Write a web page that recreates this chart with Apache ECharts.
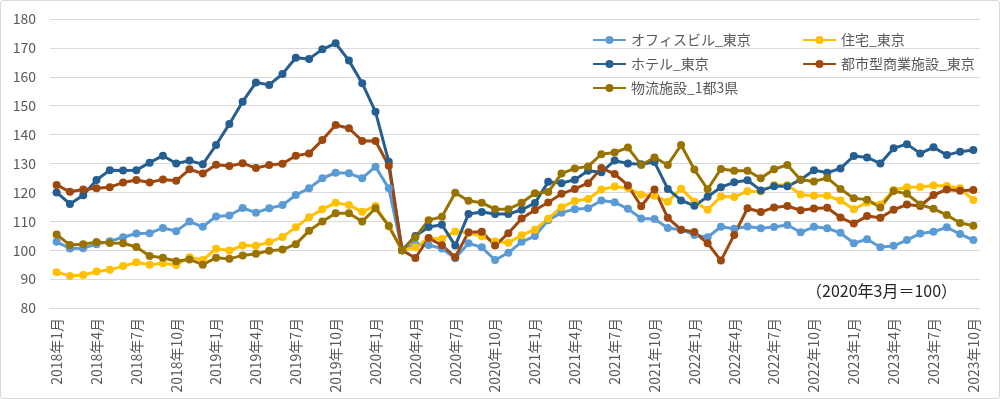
<!DOCTYPE html>
<html>
<head>
<meta charset="utf-8">
<script src="https://cdn.jsdelivr.net/npm/echarts@6/dist/echarts.min.js"></script>
<style>
  html, body { margin: 0; padding: 0; background: #fff; }
  #chart { width: 998px; height: 397px; border: 1px solid #d9d9d9; border-radius: 3px; }
</style>
</head>
<body>
<div id="chart"></div>
<script>
// months 2018/1 .. 2023/10
const years = [2018, 2019, 2020, 2021, 2022, 2023]
const months = []
years.forEach(y => {
  for (let m = 1; m <= 12; m++) {
    if (y === 2023 && m > 10) break
    months.push(y + '年' + m + '月')
  }
})

const seriesNames = ['オフィスビル_東京', '住宅_東京', 'ホテル_東京', '都市型商業施設_東京', '物流施設_1都3県']

const office = [102.9, 100.6, 100.7, 102.1, 103.1, 104.5, 105.8, 105.9, 107.7, 106.6, 109.9, 108.1,
  111.7, 112, 114.6, 113, 114.5, 115.6, 119.1, 121.4, 124.9, 126.8, 126.6, 124.9,
  128.9, 121.4, 100, 102, 101.8, 100.6, 97.2, 102.4, 101, 96.6, 99.1, 102.9,
  104.9, 110.4, 113, 114.2, 114.5, 117.2, 116.6, 114.3, 111, 110.8, 107.7, 107.1,
  105.3, 104.5, 108.1, 107.4, 108.2, 107.6, 108, 108.7, 106.2, 108.1, 107.6, 106,
  102.4, 103.8, 101, 101.5, 103.5, 105.8, 106.4, 107.9, 105.6, 103.5]

const housing = [92.4, 91.1, 91.4, 92.6, 93.2, 94.5, 95.8, 95, 95.5, 94.9, 97.6, 96.6,
  100.5, 99.9, 101.6, 101.5, 102.8, 104.6, 107.9, 111.4, 114.2, 116.4, 115.6, 113.3,
  115.3, 108.3, 100, 101, 104.1, 103.9, 106.5, 106, 104.8, 103, 102.6, 105.2,
  107.1, 110.9, 114.9, 117, 117.7, 121, 122, 121.5, 119.2, 118.8, 116.8, 121.3,
  116.8, 114, 118.6, 118.4, 120.4, 120.3, 122.6, 122.6, 119.3, 118.8, 118.8, 117.2,
  114.2, 116.5, 115.8, 120.8, 121.8, 121.9, 122.4, 122.2, 121.4, 117.4]

const hotel = [120, 116, 119, 124.3, 127.7, 127.6, 127.7, 130.3, 132.7, 130, 131, 129.7,
  136.4, 143.7, 151.4, 158, 157.2, 161, 166.6, 166.2, 169.5, 171.6, 165.6, 157.8,
  147.9, 130.6, 100, 104.9, 108, 108.8, 101.6, 112.5, 113.2, 112.5, 112.5, 114,
  116.3, 123.7, 123.2, 124.4, 127.5, 127, 131, 130, 129.7, 130.5, 121.2, 117.2,
  115.4, 118.5, 121.8, 123.5, 124.2, 120.7, 122.1, 122.1, 124.4, 127.7, 126.8, 128.3,
  132.6, 132.1, 130, 135.3, 136.7, 133.5, 135.6, 132.9, 134.1, 134.7]

const retail = [122.6, 120.2, 121, 121.4, 121.8, 123.4, 124.3, 123.4, 124.5, 124, 128, 126.5,
  129.6, 129.1, 130.1, 128.4, 129.5, 129.9, 132.7, 133.5, 138.1, 143.3, 142.2, 137.8,
  137.8, 129.2, 100, 97.3, 104.2, 101.7, 97.6, 106.2, 106.4, 101.6, 105.9, 111,
  113.9, 116.5, 119.5, 121.2, 123.2, 128.4, 126.4, 122.4, 115.2, 121, 111.2, 107.1,
  106.3, 102.4, 96.4, 105.3, 114.5, 113.2, 114.8, 115.3, 113.8, 114.4, 114.7, 111.3,
  109.2, 111.8, 111.2, 114, 115.8, 115.3, 119.1, 121, 120.6, 120.8]

const logistics = [105.4, 101.8, 102.1, 102.8, 102.5, 102.4, 101.1, 98, 97.4, 96.2, 96.8, 95,
  97.4, 97, 98.2, 98.8, 99.8, 100.2, 102.1, 106.7, 109.9, 112.8, 112.8, 109.9,
  114.5, 108.4, 100, 104.5, 110.4, 111.6, 119.9, 117.1, 116.4, 114.2, 114.2, 116.4,
  119.7, 120.1, 126.5, 128.3, 129, 133.2, 133.8, 135.5, 129.5, 132.1, 129.5, 136.4,
  127.9, 121.1, 128.1, 127.5, 127.5, 124.9, 128, 129.5, 124.4, 123.8, 125, 121.2,
  118, 117.5, 114.8, 120.5, 119.5, 115.8, 114.3, 112.2, 109.4, 108.5]

const seriesData = [office, housing, hotel, retail, logistics]
const colors = ['#5b9bd5', '#ffc000', '#255e91', '#9e480e', '#997300']

const font = '"Noto Sans CJK JP", "Noto Sans", sans-serif'
const textColor = '#595959'

const chart = echarts.init(document.getElementById('chart'), null, { renderer: 'canvas' })

const legendPos = [
  { left: 591, top: 32 },
  { left: 801, top: 32 },
  { left: 591, top: 56 },
  { left: 801, top: 56 },
  { left: 591, top: 80 }
]

chart.setOption({
  animation: false,
  color: colors,
  textStyle: { fontFamily: font },
  grid: { left: 49, right: 19, top: 18, bottom: 90, containLabel: false },
  legend: seriesNames.map((n, i) => ({
    data: [n],
    left: legendPos[i].left,
    top: legendPos[i].top,
    itemWidth: 33,
    itemHeight: 10,
    itemGap: 0,
    padding: 0,
    textStyle: { color: textColor, fontSize: 14, fontFamily: font }
  })),
  xAxis: {
    type: 'category',
    data: months,
    boundaryGap: true,
    axisLine: { lineStyle: { color: '#d9d9d9', width: 1 } },
    axisTick: { interval: 2, length: 5, lineStyle: { color: '#d9d9d9' } },
    axisLabel: {
      interval: 2,
      rotate: 90,
      color: textColor,
      fontSize: 14,
      margin: 10,
      fontFamily: font
    }
  },
  yAxis: {
    type: 'value',
    min: 80,
    max: 180,
    interval: 10,
    axisLine: { show: false },
    axisTick: { show: false },
    splitLine: { lineStyle: { color: '#d9d9d9', width: 1 } },
    axisLabel: { color: textColor, fontSize: 14, margin: 14, fontFamily: font }
  },
  graphic: [{
    type: 'text',
    left: 805,
    top: 282,
    style: {
      text: '（2020年3月＝100）',
      fill: '#262626',
      font: '16px ' + font
    }
  }],
  series: seriesNames.map((n, i) => ({
    name: n,
    type: 'line',
    data: seriesData[i],
    symbol: 'circle',
    symbolSize: 8,
    lineStyle: { width: 3 },
    itemStyle: { color: colors[i] },
    z: 2
  }))
})
</script>
</body>
</html>
